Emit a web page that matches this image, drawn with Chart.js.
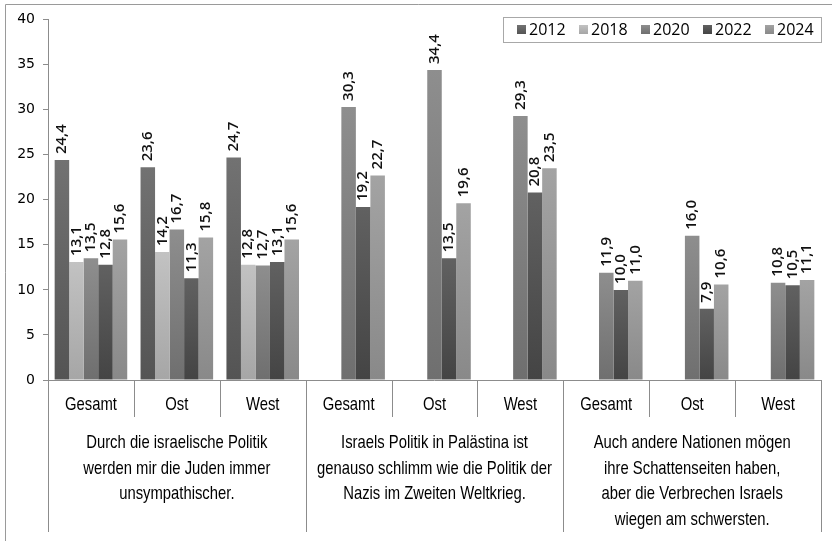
<!DOCTYPE html>
<html>
<head>
<meta charset="utf-8">
<script src="https://cdn.jsdelivr.net/npm/chart.js@4.4.1/dist/chart.umd.min.js"></script>
<style>
  body { margin: 0; background: #fff; }
  #wrap { width: 832px; height: 541px; }
</style>
</head>
<body>
<div id="wrap"><canvas id="myChart" width="832" height="541"></canvas></div>
<script>
const categories = ['Gesamt', 'Ost', 'West', 'Gesamt', 'Ost', 'West', 'Gesamt', 'Ost', 'West'];
const groupLabels = [
    ['Durch die israelische Politik', 'werden mir die Juden immer', 'unsympathischer.'],
    ['Israels Politik in Palästina ist', 'genauso schlimm wie die Politik der', 'Nazis im Zweiten Weltkrieg.'],
    ['Auch andere Nationen mögen', 'ihre Schattenseiten haben,', 'aber die Verbrechen Israels', 'wiegen am schwersten.']
];
const years = ['2012', '2018', '2020', '2022', '2024'];
const values2012 = [24.4, 23.6, 24.7, null, null, null, null, null, null];
const values2018 = [13.1, 14.2, 12.8, null, null, null, null, null, null];
const values2020 = [13.5, 16.7, 12.7, 30.3, 34.4, 29.3, 11.9, 16.0, 10.8];
const values2022 = [12.8, 11.3, 13.1, 19.2, 13.5, 20.8, 10.0, 7.9, 10.5];
const values2024 = [15.6, 15.8, 15.6, 22.7, 19.6, 23.5, 11.0, 10.6, 11.1];
const yTicks = [0, 5, 10, 15, 20, 25, 30, 35, 40];

// top / bottom shade of each series
const shades = [
    ['#727272', '#545454'],
    ['#c2c2c2', '#a6a6a6'],
    ['#8e8e8e', '#6f6f6f'],
    ['#616161', '#444444'],
    ['#a3a3a3', '#898989']
];

function barFill(idx) {
    return (ctx) => {
        const chart = ctx.chart;
        if (!chart.chartArea || ctx.raw == null) return shades[idx][0];
        const y = chart.scales.y;
        const top = y.getPixelForValue(ctx.raw);
        const bottom = y.getPixelForValue(0);
        const g = chart.ctx.createLinearGradient(0, top, 0, bottom);
        g.addColorStop(0, shades[idx][0]);
        g.addColorStop(1, shades[idx][1]);
        return g;
    };
}

const seriesValues = [values2012, values2018, values2020, values2022, values2024];

// condensed look for the axis texts (no narrow font installed)
function narrowText(ctx, text, x, y) {
    ctx.save();
    ctx.translate(x, y);
    ctx.scale(0.78, 1);
    ctx.fillText(text, 0, 0);
    ctx.restore();
}

const valueLabels = {
    id: 'valueLabels',
    afterDatasetsDraw(chart) {
        const ctx = chart.ctx;
        ctx.save();
        ctx.font = "600 15px 'Open Sans', sans-serif";
        ctx.fillStyle = '#111';
        ctx.textAlign = 'left';
        ctx.textBaseline = 'middle';
        chart.data.datasets.forEach((ds, di) => {
            const meta = chart.getDatasetMeta(di);
            meta.data.forEach((bar, i) => {
                const v = ds.data[i];
                if (v == null) return;
                ctx.save();
                ctx.translate(bar.x, bar.y - 6);
                ctx.rotate(-Math.PI / 2);
                ctx.fillText(v.toFixed(1).replace('.', ','), 0, 0);
                ctx.restore();
            });
        });
        ctx.restore();
    }
};

const axisAndLegend = {
    id: 'axisAndLegend',
    afterDraw(chart) {
        const ctx = chart.ctx;
        const area = chart.chartArea;
        const x = chart.scales.x;
        const half = (x.getPixelForValue(1) - x.getPixelForValue(0)) / 2;
        ctx.save();

        // outer frame (top and left edge)
        ctx.strokeStyle = '#9a9a9a';
        ctx.lineWidth = 1;
        ctx.beginPath();
        ctx.moveTo(5.5, 541);
        ctx.lineTo(5.5, 4.5);
        ctx.lineTo(832, 4.5);
        ctx.stroke();

        // x axis line + dividers
        ctx.strokeStyle = '#8c8c8c';
        ctx.beginPath();
        ctx.moveTo(area.left, area.bottom + 0.5);
        ctx.lineTo(area.right, area.bottom + 0.5);
        for (let i = 0; i <= categories.length; i++) {
            const px = Math.round(x.getPixelForValue(i) - half) + 0.5;
            const long = i % 3 === 0;
            ctx.moveTo(px, area.bottom);
            ctx.lineTo(px, area.bottom + (long ? 152 : 37));
        }
        ctx.stroke();

        ctx.fillStyle = '#000';
        ctx.textAlign = 'center';
        ctx.textBaseline = 'middle';
        ctx.font = "19px 'Liberation Sans', Arial, sans-serif";
        categories.forEach((c, i) => {
            narrowText(ctx, c, x.getPixelForValue(i), area.bottom + 25);
        });
        groupLabels.forEach((lines, g) => {
            const cx = x.getPixelForValue(g * 3 + 1);
            lines.forEach((line, k) => {
                narrowText(ctx, line, cx, area.bottom + 63 + k * 25.5);
            });
        });

        // legend
        ctx.fillStyle = '#fff';
        ctx.fillRect(503, 17, 319, 25);
        ctx.strokeStyle = '#a8a8a8';
        ctx.strokeRect(503.5, 17.5, 318, 25);
        ctx.font = "16px 'Open Sans', sans-serif";
        ctx.textAlign = 'left';
        years.forEach((yr, i) => {
            const sx = 517 + i * 62;
            const g = ctx.createLinearGradient(0, 25, 0, 34);
            g.addColorStop(0, shades[i][0]);
            g.addColorStop(1, shades[i][1]);
            ctx.fillStyle = g;
            ctx.fillRect(sx, 25, 9, 9);
            ctx.fillStyle = '#000';
            ctx.fillText(yr, sx + 12, 30);
        });
        ctx.restore();
    }
};

const config = {
    type: 'bar',
    data: {
        labels: categories,
        datasets: years.map((yr, i) => ({
            label: yr,
            data: seriesValues[i],
            backgroundColor: barFill(i),
            borderWidth: 0,
            categoryPercentage: 0.845,
            barPercentage: 1
        }))
    },
    options: {
        responsive: false,
        animation: false,
        layout: { padding: { top: 19.5, left: 0, right: 11, bottom: 161 } },
        plugins: {
            legend: { display: false },
            tooltip: { enabled: false }
        },
        scales: {
            x: { display: false },
            y: {
                min: 0,
                max: 40,
                afterFit: (s) => { s.width = 48; },
                afterBuildTicks: (s) => { s.ticks = yTicks.map(v => ({ value: v })); },
                ticks: {
                    color: '#000',
                    padding: 8,
                    font: { family: "'DejaVu Sans', sans-serif", size: 14 }
                },
                grid: { drawOnChartArea: false, drawTicks: true, tickLength: 5, color: '#8c8c8c' },
                border: { display: true, color: '#8c8c8c' }
            }
        }
    },
    plugins: [valueLabels, axisAndLegend]
};

new Chart(document.getElementById('myChart').getContext('2d'), config);
</script>
</body>
</html>
